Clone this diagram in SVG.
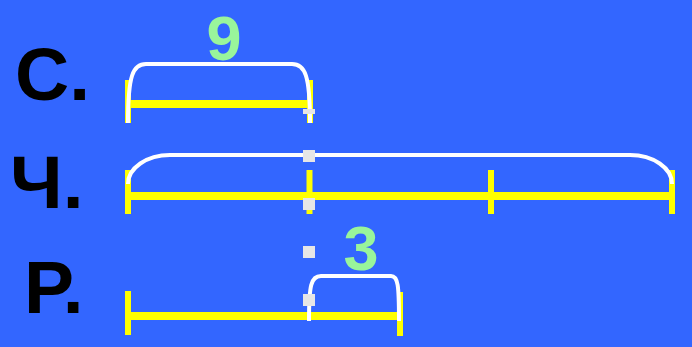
<svg xmlns="http://www.w3.org/2000/svg" width="692" height="347" viewBox="0 0 692 347">
<style>
.lbl{font-family:"Liberation Sans",Arial,sans-serif;font-weight:bold;font-size:75px;fill:#000}
.num{font-family:"Liberation Sans",Arial,sans-serif;font-weight:bold;font-size:63px;fill:#99F59B;text-anchor:middle}
.bar{stroke:#FFFF00;stroke-width:8;fill:none}
.tick{stroke:#FFFF00;stroke-width:6;fill:none}
.brace{stroke:#FFFFFF;stroke-width:4;fill:none}
.dots{stroke:#E6E6E6;stroke-width:12;stroke-dasharray:12 36;stroke-dashoffset:7;fill:none}
</style>
<rect width="692" height="347" fill="#3366FF"/>
<g id="labels">
<text class="lbl" x="15" y="100">С.</text>
<text class="lbl" x="10" y="208">Ч.</text>
<text class="lbl" x="24" y="313">Р.</text>
</g>
<g id="segment-s">
<line class="bar" x1="128" y1="104" x2="310" y2="104"/>
<line class="tick" x1="128" y1="80" x2="128" y2="123"/>
<line class="tick" x1="310" y1="80" x2="310" y2="123"/>
</g>
<g id="segment-ch">
<line class="bar" x1="128" y1="196" x2="672" y2="196"/>
<line class="tick" x1="128" y1="170" x2="128" y2="214"/>
<line class="tick" x1="309.5" y1="170" x2="309.5" y2="214"/>
<line class="tick" x1="491" y1="170" x2="491" y2="214"/>
<line class="tick" x1="672" y1="170" x2="672" y2="214"/>
</g>
<g id="segment-r">
<line class="bar" x1="128" y1="316" x2="400" y2="316"/>
<line class="tick" x1="128" y1="291" x2="128" y2="335"/>
<line class="tick" x1="400" y1="292" x2="400" y2="336"/>
</g>
<g id="connectors">
<path class="brace" d="M128,123 C128,75 133,64 146,64 L292,64 C305,64 310,75 310,123"/>
<path class="brace" d="M128,184 A42,29 0 0 1 170,155 L630,155 A42,29 0 0 1 672,184"/>
<path class="brace" d="M309,321 C309,285 311,276 321,276 L391,276 C398,276 399,285 399,321"/>
<line class="dots" x1="309" y1="109" x2="309" y2="306"/>
</g>
<g id="numbers">
<text class="num" x="224" y="60">9</text>
<text class="num" x="361" y="270">3</text>
</g>
</svg>
